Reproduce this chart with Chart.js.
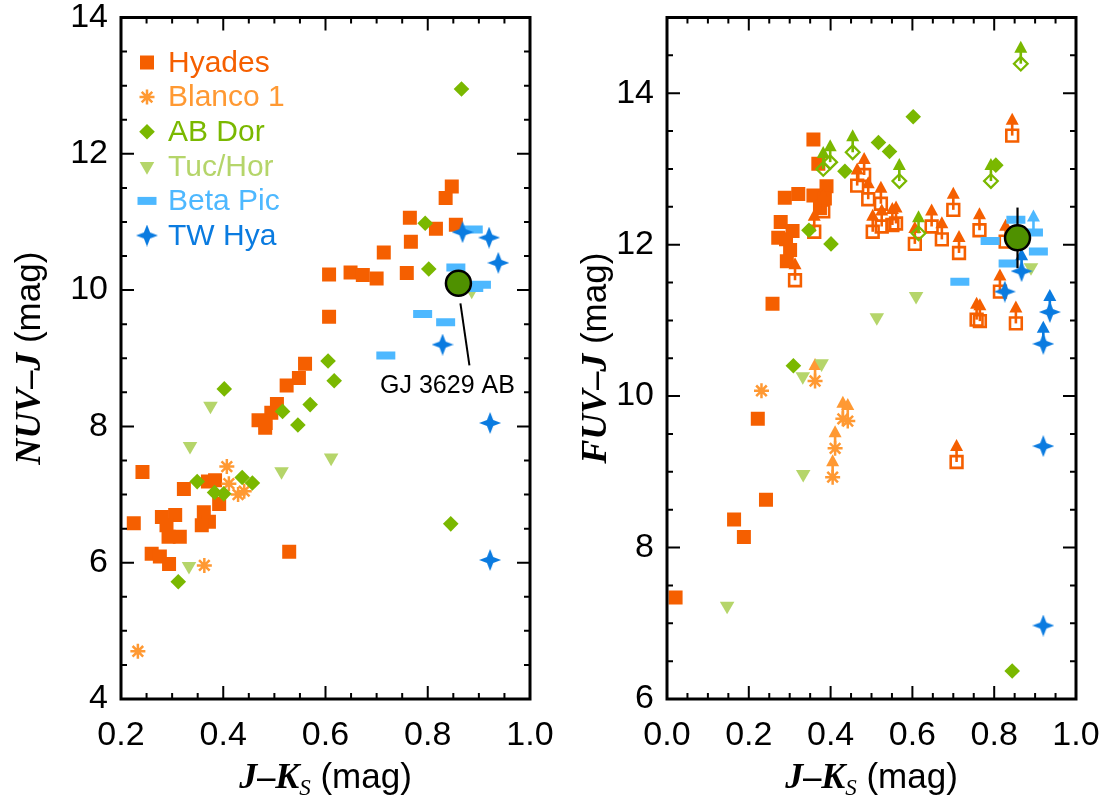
<!DOCTYPE html>
<html><head><meta charset="utf-8">
<script src="https://cdn.jsdelivr.net/npm/chart.js@4.4.1/dist/chart.umd.min.js"></script>
<style>
html,body{margin:0;padding:0;background:#fff;width:1107px;height:802px;overflow:hidden;position:relative}
canvas{position:absolute;top:0}
#c1{left:0}
#c2{left:553px}
</style></head><body>
<canvas id="c1" width="600" height="802"></canvas>
<canvas id="c2" width="554" height="802"></canvas>
<script>
// ---------------- DATA ----------------
const seriesNames  = ['Hyades', 'Blanco 1', 'AB Dor', 'Tuc/Hor', 'Beta Pic', 'TW Hya'];
const seriesColors = ['#F55F00', '#FF9933', '#7AB800', '#B5D56A', '#4DB8FF', '#0A7BE0'];

// Left panel: J-Ks vs NUV-J
const nuvHyades = [[0.847,11.52],[0.835,11.35],[0.765,11.06],[0.816,10.90],[0.855,10.96],[0.767,10.71],[0.714,10.55],
  [0.607,10.23],[0.649,10.26],[0.673,10.22],[0.700,10.17],[0.759,10.25],[0.607,9.61],[0.560,8.92],[0.548,8.71],
  [0.524,8.60],[0.505,8.33],[0.494,8.20],[0.469,8.09],[0.483,8.05],[0.482,7.98],[0.242,7.33],[0.323,7.08],
  [0.370,7.19],[0.384,7.21],[0.392,6.86],[0.225,6.58],[0.280,6.67],[0.306,6.70],[0.289,6.55],[0.362,6.74],
  [0.372,6.60],[0.358,6.55],[0.293,6.38],[0.315,6.38],[0.260,6.13],[0.276,6.09],[0.294,5.98],[0.529,6.16]];
const nuvBlanco = [[0.407,7.41],[0.411,7.16],[0.429,7.00],[0.441,7.05],[0.363,5.96],[0.233,4.70]];
const nuvABDor = [[0.866,12.95],[0.795,10.98],[0.802,10.31],[0.605,8.96],[0.617,8.67],[0.402,8.55],[0.570,8.32],
  [0.516,8.22],[0.546,8.02],[0.349,7.19],[0.437,7.25],[0.457,7.17],[0.383,7.03],[0.401,7.01],[0.845,6.57],[0.312,5.72]];
const nuvTucHor = [[0.375,8.30],[0.335,7.71],[0.611,7.54],[0.514,7.34],[0.333,5.95],[0.886,9.99]];
const nuvBetaPic = [[0.889,10.89],[0.855,10.33],[0.905,10.08],[0.890,10.03],[0.790,9.65],[0.835,9.53],[0.718,9.04]];
const nuvTWHya = [[0.868,10.85],[0.920,10.77],[0.938,10.40],[0.829,9.20],[0.922,8.05],[0.922,6.04]];
const gjNuv = [[0.860,10.10]];

// Right panel: J-Ks vs FUV-J (…Lim = lower limits, drawn with arrows)
const fuvHyades = [[0.358,13.39],[0.370,13.07],[0.288,12.62],[0.321,12.67],[0.358,12.65],[0.390,12.77],[0.386,12.61],
  [0.374,12.48],[0.278,12.30],[0.307,12.18],[0.272,12.09],[0.291,12.07],[0.301,11.93],[0.293,11.78],[0.258,11.22],
  [0.222,9.70],[0.242,8.63],[0.164,8.37],[0.188,8.14],[0.021,7.34]];
const fuvHyadesLim = [[0.313,11.53],[0.360,12.17],[0.382,12.44],[0.465,12.78],[0.482,12.92],[0.492,12.60],[0.523,12.54],
  [0.503,12.17],[0.525,12.24],[0.551,12.26],[0.560,12.28],[0.606,12.01],[0.647,12.24],[0.672,12.07],[0.700,12.46],
  [0.714,11.89],[0.764,12.19],[0.828,12.04],[0.844,13.44],[0.814,11.38],[0.757,11.01],[0.765,10.99],[0.853,10.96],[0.708,9.13]];
const fuvBlanco = [[0.231,10.07]];
const fuvBlancoLim = [[0.362,10.20],[0.430,9.70],[0.442,9.67],[0.411,9.31],[0.405,8.93]];
const fuvABDor = [[0.602,13.69],[0.517,13.35],[0.544,13.23],[0.435,12.97],[0.347,12.19],[0.401,12.01],[0.804,13.05],[0.309,10.40],[0.844,6.37]];
const fuvABDorLim = [[0.865,14.39],[0.454,13.22],[0.382,13.00],[0.399,13.09],[0.568,12.84],[0.792,12.84],[0.615,12.15]];
const fuvTucHor = [[0.609,11.32],[0.513,11.04],[0.890,11.70],[0.378,10.43],[0.332,10.26],[0.333,8.97],[0.147,7.23]];
const fuvBetaPic = [[0.853,12.33],[0.790,12.05],[0.908,11.91],[0.834,11.75],[0.716,11.51]];
const fuvBetaPicLim = [[0.896,12.16]];
const fuvTWHya = [[0.826,11.38],[0.920,9.34],[0.920,6.97]];
const fuvTWHyaLim = [[0.867,11.65],[0.936,11.11],[0.920,10.69]];
const gjFuv = [[0.857,12.09]];
const gjFuvErr = 0.40;

// Axes / ticks
const leftXRange = [0.2, 1.0];
const leftYRange = [4, 14];
const rightXRange = [0.0, 1.0];
const rightYRange = [6, 15];
const leftXTicks = [0.2, 0.4, 0.6, 0.8, 1.0];
const leftYTicks = [4, 6, 8, 10, 12, 14];
const rightXTicks = [0.0, 0.2, 0.4, 0.6, 0.8, 1.0];
const rightYTicks = [6, 8, 10, 12, 14];
const gjLabel = 'GJ 3629 AB';

// ---------------- STYLES ----------------
const SANS = "'Liberation Sans', Arial, Helvetica, sans-serif";
const SERIF = "'Liberation Serif', 'Times New Roman', serif";

function starImage(color, size) {
  const c = document.createElement('canvas');
  c.width = c.height = size;
  const g = c.getContext('2d');
  const r = size / 2, ri = size * 0.2;
  g.fillStyle = color;
  g.beginPath();
  for (let i = 0; i < 8; i++) {
    const a = i * Math.PI / 4 - Math.PI / 2;
    const rr = (i % 2 === 0) ? r : ri;
    g.lineTo(r + rr * Math.cos(a), r + rr * Math.sin(a));
  }
  g.closePath();
  g.fill();
  return c;
}
const twStar = starImage(seriesColors[5], 22);

const markerStyles = [
  { pointStyle: 'rect', radius: 9.9, backgroundColor: seriesColors[0], borderColor: seriesColors[0], borderWidth: 0 },
  { pointStyle: 'star', radius: 7.5, backgroundColor: seriesColors[1], borderColor: seriesColors[1], borderWidth: 2.5 },
  { pointStyle: 'rectRot', radius: 7.8, backgroundColor: seriesColors[2], borderColor: seriesColors[2], borderWidth: 0 },
  { pointStyle: 'triangle', rotation: 180, radius: 8.4, backgroundColor: seriesColors[3], borderColor: seriesColors[3], borderWidth: 0 },
  { pointStyle: 'line', radius: 9.5, backgroundColor: seriesColors[4], borderColor: seriesColors[4], borderWidth: 8 },
  { pointStyle: twStar, radius: 11, backgroundColor: seriesColors[5], borderColor: seriesColors[5], borderWidth: 0 }
];
const openSquare = { pointStyle: 'rect', radius: 8.3, backgroundColor: 'rgba(0,0,0,0)', borderColor: seriesColors[0], borderWidth: 2.6 };
const openDiamond = { pointStyle: 'rectRot', radius: 6.8, backgroundColor: 'rgba(0,0,0,0)', borderColor: seriesColors[2], borderWidth: 2.3 };
const gjStyle = { pointStyle: 'circle', radius: 12.5, backgroundColor: '#4F9100', borderColor: '#000', borderWidth: 2.5 };

function pts(arr) { return arr.map(p => ({ x: p[0], y: p[1] })); }
function ds(data, st, extra) {
  return Object.assign({
    data: pts(data),
    pointStyle: st.pointStyle, pointRadius: st.radius, pointRotation: st.rotation || 0,
    pointBackgroundColor: st.backgroundColor, pointBorderColor: st.borderColor, pointBorderWidth: st.borderWidth,
    showLine: false
  }, extra || {});
}
function withOrder(list) { list.forEach((d, i) => { d.order = list.length - i; }); return list; }

// ---------------- PLUGINS ----------------
const framePlugin = {
  id: 'frame',
  afterDraw(chart) {
    const o = chart.options.plugins.frame;
    const { ctx, chartArea: a } = chart;
    const sx = chart.scales.x, sy = chart.scales.y;
    ctx.save();
    ctx.strokeStyle = '#000';
    ctx.lineWidth = 2;
    const isMajor = (v, arr) => arr.some(t => Math.abs(t - v) < 1e-6);
    ctx.beginPath();
    for (let v = o.xRange[0]; v <= o.xRange[1] + 1e-9; v += 0.05) {
      const px = sx.getPixelForValue(v);
      const L = isMajor(v, o.xTicks) ? 13 : 6;
      ctx.moveTo(px, a.bottom); ctx.lineTo(px, a.bottom - L);
      ctx.moveTo(px, a.top); ctx.lineTo(px, a.top + L);
    }
    for (let v = o.yRange[0]; v <= o.yRange[1] + 1e-9; v += 0.5) {
      const py = sy.getPixelForValue(v);
      const L = isMajor(v, o.yTicks) ? 13 : 6;
      ctx.moveTo(a.left, py); ctx.lineTo(a.left + L, py);
      ctx.moveTo(a.right, py); ctx.lineTo(a.right - L, py);
    }
    ctx.stroke();
    ctx.lineWidth = 3;
    ctx.strokeRect(a.left, a.top, a.right - a.left, a.bottom - a.top);
    ctx.restore();
  }
};

const arrowPlugin = {
  id: 'arrows',
  beforeDatasetDraw(chart, args) {
    const d = chart.data.datasets[args.index];
    if (d.errY === undefined) return;
    const ctx = chart.ctx, sy = chart.scales.y;
    ctx.save();
    ctx.strokeStyle = '#000'; ctx.lineWidth = 2.2;
    args.meta.data.forEach((el, i) => {
      const v = d.data[i].y;
      ctx.beginPath();
      ctx.moveTo(el.x, sy.getPixelForValue(v + d.errY));
      ctx.lineTo(el.x, sy.getPixelForValue(v - d.errY));
      ctx.stroke();
    });
    ctx.restore();
  },
  afterDatasetDraw(chart, args) {
    const d = chart.data.datasets[args.index];
    if (!d.limitColor) return;
    const ctx = chart.ctx;
    ctx.save();
    ctx.strokeStyle = d.limitColor; ctx.fillStyle = d.limitColor; ctx.lineWidth = 2.6;
    args.meta.data.forEach(el => {
      const x = el.x, y = el.y;
      ctx.beginPath(); ctx.moveTo(x, y); ctx.lineTo(x, y - 12); ctx.stroke();
      ctx.beginPath(); ctx.moveTo(x - 6.5, y - 11); ctx.lineTo(x + 6.5, y - 11); ctx.lineTo(x, y - 23); ctx.closePath(); ctx.fill();
    });
    ctx.restore();
  }
};

function drawRich(ctx, segs, cx, cy) {
  let w = 0;
  segs.forEach(s => { ctx.font = s.f; w += ctx.measureText(s.t).width; });
  let x = cx - w / 2;
  ctx.textAlign = 'left';
  ctx.textBaseline = 'alphabetic';
  segs.forEach(s => { ctx.font = s.f; ctx.fillText(s.t, x, cy + (s.dy || 0)); x += ctx.measureText(s.t).width; });
}
const TS = 36;
const BI = 'italic bold ' + TS + 'px ' + SERIF;
const BD = 'bold ' + TS + 'px ' + SERIF;
const RG = (TS - 1) + 'px ' + SANS;
const xTitleSegs = [{ t: 'J', f: BI }, { t: '–', f: BD }, { t: 'K', f: BI }, { t: 'S', f: 'italic 23px ' + SERIF, dy: 7 }, { t: ' (mag)', f: RG }];

const titlePlugin = {
  id: 'titles',
  afterDraw(chart) {
    const o = chart.options.plugins.titles;
    const { ctx, chartArea: a } = chart;
    ctx.save();
    ctx.fillStyle = '#000';
    drawRich(ctx, xTitleSegs, (a.left + a.right) / 2, o.xBase);
    ctx.translate(o.yBase, (a.top + a.bottom) / 2);
    ctx.rotate(-Math.PI / 2);
    drawRich(ctx, o.ySegs, 0, 0);
    ctx.restore();
  }
};

const legendPlugin = {
  id: 'innerLegend',
  afterDraw(chart) {
    const o = chart.options.plugins.innerLegend;
    if (!o || !o.show) return;
    const { ctx, chartArea: a } = chart;
    ctx.save();
    seriesNames.forEach((name, i) => {
      const y = a.top + 45 + i * 34.6;
      const x = a.left + 26;
      const st = markerStyles[i];
      ctx.fillStyle = st.backgroundColor; ctx.strokeStyle = st.borderColor; ctx.lineWidth = st.borderWidth;
      Chart.helpers.drawPoint(ctx, { pointStyle: st.pointStyle, rotation: st.rotation || 0, radius: st.radius, borderWidth: st.borderWidth }, x, y);
      ctx.font = '30px ' + SANS;
      ctx.fillStyle = seriesColors[i];
      ctx.textAlign = 'left'; ctx.textBaseline = 'middle';
      ctx.fillText(name, a.left + 47, y + 1);
    });
    ctx.restore();
  }
};

const annotPlugin = {
  id: 'annot',
  afterDraw(chart) {
    const o = chart.options.plugins.annot;
    if (!o || !o.show) return;
    const ctx = chart.ctx;
    const x = chart.scales.x.getPixelForValue(gjNuv[0][0]);
    const y = chart.scales.y.getPixelForValue(gjNuv[0][1]);
    ctx.save();
    ctx.strokeStyle = '#000'; ctx.lineWidth = 2;
    ctx.beginPath(); ctx.moveTo(x + 2, y + 20); ctx.lineTo(x + 11, y + 82); ctx.stroke();
    ctx.fillStyle = '#000'; ctx.font = '25px ' + SANS; ctx.textAlign = 'center'; ctx.textBaseline = 'alphabetic';
    ctx.fillText(gjLabel, x - 11, y + 110);
    ctx.restore();
  }
};

// ---------------- CHARTS ----------------
function makeChart(id, c) {
  const tickFont = { family: SANS, size: 34 };
  return new Chart(document.getElementById(id), {
    type: 'scatter',
    data: { datasets: c.datasets },
    options: {
      responsive: false, animation: false, devicePixelRatio: 1, events: [],
      layout: { padding: { left: 0, top: 10, right: c.padRight, bottom: 0 } },
      plugins: {
        legend: { display: false }, tooltip: { enabled: false },
        frame: { xRange: c.xRange, yRange: c.yRange, xTicks: c.xTicks, yTicks: c.yTicks },
        titles: { xBase: 788, yBase: c.yTitleBase, ySegs: c.ySegs },
        innerLegend: { show: c.legend },
        annot: { show: c.annot }
      },
      scales: {
        x: {
          type: 'linear', position: 'bottom', min: c.xRange[0], max: c.xRange[1],
          grid: { display: false, drawTicks: false }, border: { display: false },
          ticks: { font: tickFont, color: '#000', padding: 16, maxRotation: 0, autoSkip: false, callback: v => Number(v).toFixed(1) },
          afterBuildTicks: s => { s.ticks = c.xTicks.map(v => ({ value: v })); },
          afterFit: s => { s.height = 103; s.paddingLeft = 0; s.paddingRight = 0; }
        },
        y: {
          type: 'linear', position: 'left', min: c.yRange[0], max: c.yRange[1],
          grid: { display: false, drawTicks: false }, border: { display: false },
          ticks: { font: tickFont, color: '#000', padding: 13, autoSkip: false, callback: v => String(v) },
          afterBuildTicks: s => { s.ticks = c.yTicks.map(v => ({ value: v })); },
          afterFit: s => { s.width = c.yWidth; s.paddingTop = 0; s.paddingBottom = 0; }
        }
      }
    },
    plugins: [framePlugin, arrowPlugin, titlePlugin, legendPlugin, annotPlugin]
  });
}

const leftDatasets = withOrder([
  ds(nuvHyades, markerStyles[0]),
  ds(nuvBlanco, markerStyles[1]),
  ds(nuvABDor, markerStyles[2]),
  ds(nuvTucHor, markerStyles[3]),
  ds(nuvBetaPic, markerStyles[4]),
  ds(nuvTWHya, markerStyles[5]),
  ds(gjNuv, gjStyle)
]);

const rightDatasets = withOrder([
  ds(fuvHyades, markerStyles[0]),
  ds(fuvHyadesLim, openSquare, { limitColor: seriesColors[0] }),
  ds(fuvBlanco, markerStyles[1]),
  ds(fuvBlancoLim, markerStyles[1], { limitColor: seriesColors[1] }),
  ds(fuvABDor, markerStyles[2]),
  ds(fuvABDorLim, openDiamond, { limitColor: seriesColors[2] }),
  ds(fuvTucHor, markerStyles[3]),
  ds(fuvBetaPic, markerStyles[4]),
  ds(fuvBetaPicLim, markerStyles[4], { limitColor: seriesColors[4] }),
  ds(fuvTWHya, markerStyles[5]),
  ds(fuvTWHyaLim, markerStyles[5], { limitColor: seriesColors[5] }),
  ds(gjFuv, gjStyle, { errY: gjFuvErr })
]);

makeChart('c1', {
  datasets: leftDatasets, padRight: 70, yWidth: 121,
  xRange: leftXRange, yRange: leftYRange, xTicks: leftXTicks, yTicks: leftYTicks,
  yTitleBase: 40, legend: true, annot: true,
  ySegs: [{ t: 'NUV', f: BI }, { t: '–', f: BD }, { t: 'J', f: BI }, { t: ' (mag)', f: RG }]
});
makeChart('c2', {
  datasets: rightDatasets, padRight: 31, yWidth: 114,
  xRange: rightXRange, yRange: rightYRange, xTicks: rightXTicks, yTicks: rightYTicks,
  yTitleBase: 53, legend: false, annot: false,
  ySegs: [{ t: 'FUV', f: BI }, { t: '–', f: BD }, { t: 'J', f: BI }, { t: ' (mag)', f: RG }]
});
</script>
</body></html>
